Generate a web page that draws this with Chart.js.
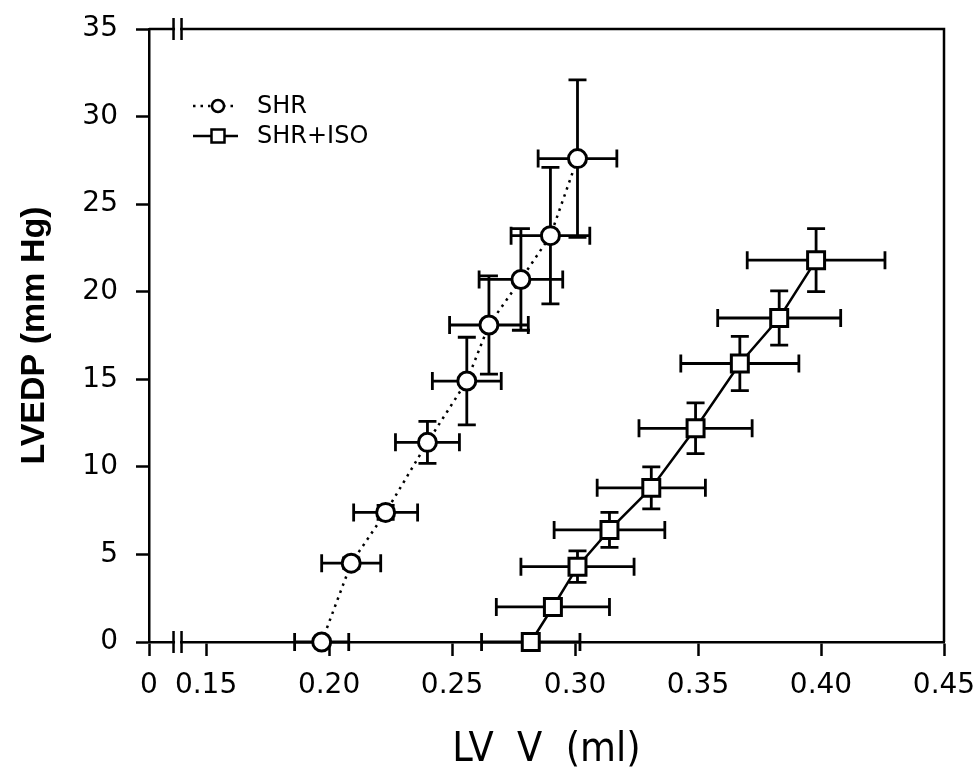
<!DOCTYPE html>
<html>
<head>
<meta charset="utf-8">
<script src="https://cdn.jsdelivr.net/npm/chart.js@4.4.1/dist/chart.umd.min.js"></script>
<style>
  body { margin: 0; background: #fff; }
  canvas { display: block; }
</style>
</head>
<body>
<canvas id="pv" width="978" height="772"></canvas>
<script>
// LV volume (ml) vs LVEDP (mm Hg), mean +/- error
const shrVolume    = [0.197, 0.209, 0.223, 0.240, 0.256, 0.265, 0.278, 0.290, 0.301];
const shrPressure  = [0, 4.5, 7.4, 11.4, 14.9, 18.1, 20.7, 23.2, 27.6];
const shrVolErr    = [0.011, 0.012, 0.013, 0.013, 0.014, 0.016, 0.017, 0.016, 0.016];
const shrPresErr   = [0, 0.3, 0.4, 1.2, 2.5, 2.8, 2.9, 3.9, 4.5];

const isoVolume    = [0.282, 0.291, 0.301, 0.314, 0.331, 0.349, 0.367, 0.383, 0.398];
const isoPressure  = [0, 2.0, 4.3, 6.4, 8.8, 12.2, 15.9, 18.5, 21.8];
const isoVolErr    = [0.020, 0.023, 0.023, 0.0225, 0.022, 0.023, 0.024, 0.025, 0.028];
const isoPresErr   = [0, 0.3, 0.9, 1.0, 1.2, 1.45, 1.55, 1.55, 1.8];

// x axis is broken between 0 and 0.15; "0" sits at xBreakLow
const xBreakLow = 0.1268;
const xTickValues = [0.15, 0.20, 0.25, 0.30, 0.35, 0.40, 0.45];
const xTickZeroLabel = '0';

const tickFont = "'DejaVu Sans', 'Liberation Sans', sans-serif";
const titleFont = "'Liberation Sans Narrow', 'DejaVu Sans Condensed', 'Liberation Sans', sans-serif";

function toPoints(xs, ys){
    return xs.map((x, i) => ({ x: x, y: ys[i] }))
}

const errorBars = {
    id: 'errorBars',
    beforeDatasetsDraw(chart){
        const ctx = chart.ctx, sx = chart.scales.x, sy = chart.scales.y
        const cap = 9
        ctx.save()
        ctx.strokeStyle = '#000'
        ctx.lineWidth = 2.8
        chart.data.datasets.forEach(ds => {
            ds.data.forEach((p, i) => {
                const px = sx.getPixelForValue(p.x)
                const py = sy.getPixelForValue(p.y)
                const ex = ds.xErr[i], ey = ds.yErr[i]
                ctx.beginPath()
                if (ex > 0) {
                    const l = sx.getPixelForValue(p.x - ex), r = sx.getPixelForValue(p.x + ex)
                    ctx.moveTo(l, py); ctx.lineTo(r, py)
                    ctx.moveTo(l, py - cap); ctx.lineTo(l, py + cap)
                    ctx.moveTo(r, py - cap); ctx.lineTo(r, py + cap)
                }
                if (ey > 0) {
                    const t = sy.getPixelForValue(p.y + ey), b = sy.getPixelForValue(p.y - ey)
                    ctx.moveTo(px, t); ctx.lineTo(px, b)
                    ctx.moveTo(px - cap, t); ctx.lineTo(px + cap, t)
                    ctx.moveTo(px - cap, b); ctx.lineTo(px + cap, b)
                }
                ctx.stroke()
            })
        })
        ctx.restore()
    }
}

// box frame on top/right plus the "||" axis break marks
const frameAndBreaks = {
    id: 'frameAndBreaks',
    beforeDatasetsDraw(chart){
        const ctx = chart.ctx, a = chart.chartArea, sx = chart.scales.x
        ctx.save()
        ctx.strokeStyle = '#000'
        ctx.lineWidth = 2.5
        ctx.beginPath()
        ctx.moveTo(a.left, a.top); ctx.lineTo(a.right, a.top); ctx.lineTo(a.right, a.bottom)
        ctx.stroke()

        const mid = (sx.getPixelForValue(xBreakLow) + sx.getPixelForValue(0.15)) / 2
        const gap = 4, h = 11
        ;[a.top, a.bottom].forEach(y => {
            ctx.fillStyle = '#fff'
            ctx.fillRect(mid - gap + 1.5, y - 2.5, 2 * gap - 3, 5)
            ctx.beginPath()
            ctx.moveTo(mid - gap, y - h); ctx.lineTo(mid - gap, y + h)
            ctx.moveTo(mid + gap, y - h); ctx.lineTo(mid + gap, y + h)
            ctx.stroke()
        })
        ctx.restore()
    }
}

// legend drawn by hand: line sample with marker, then label
const sampleLegend = {
    id: 'sampleLegend',
    afterDraw(chart){
        const ctx = chart.ctx, a = chart.chartArea
        const x0 = a.left + 44, x1 = a.left + 89, xm = a.left + 69
        const rows = [a.top + 77, a.top + 107]
        ctx.save()
        chart.data.datasets.forEach((ds, i) => {
            const y = rows[i]
            ctx.strokeStyle = '#000'
            ctx.lineWidth = ds.borderWidth
            ctx.setLineDash(ds.borderDash || [])
            ctx.beginPath(); ctx.moveTo(x0, y); ctx.lineTo(x1, y); ctx.stroke()
            ctx.setLineDash([])
            ctx.lineWidth = 2.5
            ctx.fillStyle = '#fff'
            ctx.beginPath()
            if (ds.pointStyle === 'rect') ctx.rect(xm - 6.5, y - 6.5, 13, 13)
            else ctx.arc(xm, y, 6, 0, Math.PI * 2)
            ctx.fill(); ctx.stroke()
            ctx.fillStyle = '#000'
            ctx.font = "24px " + tickFont
            ctx.textBaseline = 'middle'
            ctx.textAlign = 'left'
            ctx.fillText(ds.label, a.left + 108, y + 1)
        })
        ctx.restore()
    }
}

Chart.defaults.font.family = tickFont
Chart.defaults.color = '#000'

const config = {
    type: 'scatter',
    data: {
        datasets: [
            {
                label: 'SHR',
                data: toPoints(shrVolume, shrPressure),
                xErr: shrVolErr,
                yErr: shrPresErr,
                showLine: true,
                clip: false,
                borderColor: '#000',
                borderWidth: 2.5,
                borderDash: [2.5, 5],
                pointStyle: 'circle',
                pointRadius: 9,
                pointBorderWidth: 3,
                pointBackgroundColor: '#fff',
                pointBorderColor: '#000'
            },
            {
                label: 'SHR+ISO',
                data: toPoints(isoVolume, isoPressure),
                xErr: isoVolErr,
                yErr: isoPresErr,
                showLine: true,
                clip: false,
                borderColor: '#000',
                borderWidth: 2.5,
                pointStyle: 'rect',
                pointRadius: 12,
                pointBorderWidth: 3,
                pointBackgroundColor: '#fff',
                pointBorderColor: '#000'
            }
        ]
    },
    options: {
        responsive: false,
        animation: false,
        layout: { padding: { top: 29, right: 34, left: 0, bottom: 0 } },
        plugins: { legend: { display: false }, tooltip: { enabled: false } },
        scales: {
            x: {
                type: 'linear',
                min: xBreakLow,
                max: 0.45,
                afterFit: (s) => { s.height = 130; s.paddingLeft = 0; s.paddingRight = 0 },
                afterBuildTicks: (s) => {
                    s.ticks = [{ value: xBreakLow }].concat(xTickValues.map(v => ({ value: v })))
                },
                ticks: {
                    autoSkip: false,
                    maxRotation: 0,
                    padding: 13,
                    font: { size: 28 },
                    callback: (v) => v === xBreakLow ? xTickZeroLabel : v.toFixed(2)
                },
                grid: { drawOnChartArea: false, tickLength: 14, tickWidth: 2.5, tickColor: '#000' },
                border: { color: '#000', width: 2.5 },
                title: {
                    display: true,
                    text: 'LV  V  (ml)',
                    font: { family: titleFont, size: 41, lineHeight: 1 },
                    padding: { top: 0, bottom: 1 }
                }
            },
            y: {
                min: 0,
                max: 35,
                afterFit: (s) => { s.width = 149; s.paddingTop = 0; s.paddingBottom = 0 },
                ticks: { stepSize: 5, padding: 18, font: { size: 28 } },
                grid: { drawOnChartArea: false, tickLength: 13, tickWidth: 2.5, tickColor: '#000' },
                border: { color: '#000', width: 2.5 },
                title: {
                    display: true,
                    text: 'LVEDP (mm Hg)',
                    font: { family: "'Liberation Sans', Arial, sans-serif", size: 34, weight: 'bold', lineHeight: 1 },
                    padding: { top: 18, bottom: 0 }
                }
            }
        }
    },
    plugins: [errorBars, frameAndBreaks, sampleLegend]
}

new Chart(document.getElementById('pv'), config)
</script>
</body>
</html>
